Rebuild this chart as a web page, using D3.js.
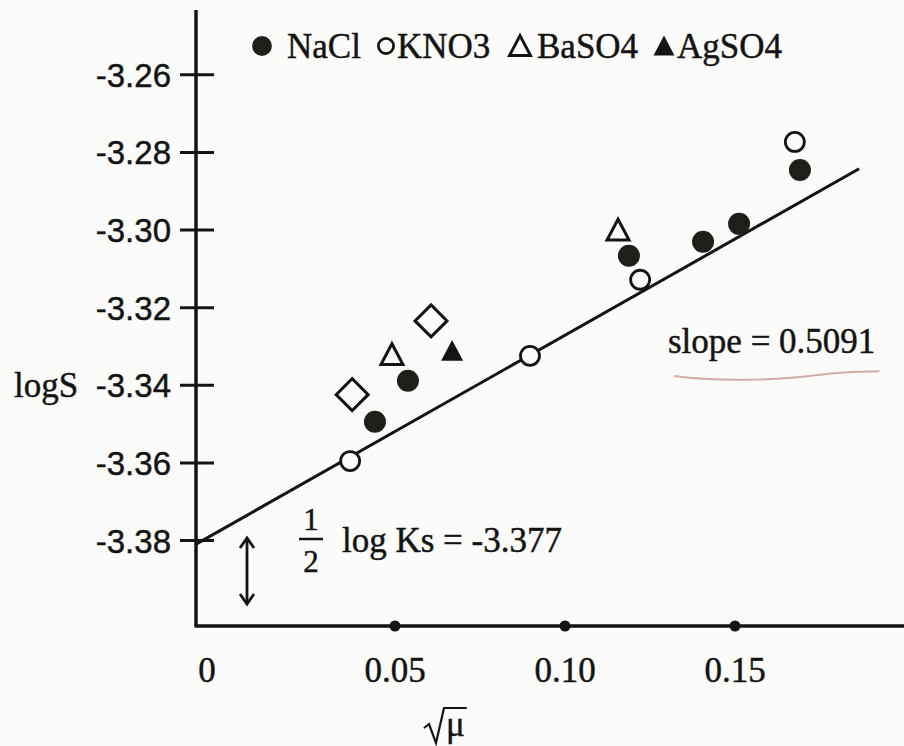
<!DOCTYPE html>
<html><head><meta charset="utf-8">
<script src="https://cdn.jsdelivr.net/npm/d3@7/dist/d3.min.js"></script>
<style>
html,body{margin:0;padding:0;background:#fbfbf9;}
svg{display:block;}
text{stroke:#141414;stroke-width:0.45px;}
</style></head>
<body>
<script>
// ---- data ----
const naclPts  = [[0.0441,-3.3494],[0.0538,-3.3388],[0.1188,-3.3066],[0.1406,-3.3030],[0.1512,-3.2984],[0.1691,-3.2845]];
const kno3Pts  = [[0.0368,-3.3595],[0.0897,-3.3324],[0.1221,-3.3128],[0.1676,-3.2773]];
const baso4Pts = [[0.0491,-3.3321],[0.1156,-3.3000]];
const agso4Pts = [[0.0668,-3.3311]];
const diamondPts = [[0.0374,-3.3424],[0.0606,-3.3234]];
const fitLine  = [[-0.0085,-3.3809],[0.1865,-3.2842]];
const yTicks = [-3.26,-3.28,-3.30,-3.32,-3.34,-3.36,-3.38];
const yTickLabels = ["-3.26","-3.28","-3.30","-3.32","-3.34","-3.36","-3.38"];
const xTicks = [0.05,0.10,0.15];
const xTickLabels = ["0.05","0.10","0.15"];
const legendNames = ["NaCl","KNO3","BaSO4","AgSO4"];
const legendKinds = ["dot","ring","tri","triFill"];
const slopeText = "slope = 0.5091";
const interceptText = "log Ks = -3.377";

const W = 904, H = 746;
const ink = "#141414";
const serif = "'Liberation Serif','DejaVu Serif',serif";
const sans = "'Liberation Sans',Arial,sans-serif";

const x = d3.scaleLinear().domain([-0.00853, 0.2]).range([196, 196 + 0.20853*3400]);
const y = d3.scaleLinear().domain([-3.402, -3.2433]).range([626, 10]);

const svg = d3.select("body").append("svg").attr("width", W).attr("height", H);

// axes
svg.append("line").attr("x1", x.range()[0]).attr("x2", x.range()[0])
  .attr("y1", y.range()[1]).attr("y2", y.range()[0])
  .attr("stroke", ink).attr("stroke-width", 3.5);
svg.append("line").attr("x1", x.range()[0]-1.5).attr("x2", W)
  .attr("y1", y.range()[0]).attr("y2", y.range()[0])
  .attr("stroke", ink).attr("stroke-width", 3.5);

// y ticks
const yg = svg.append("g");
yTicks.forEach((t, i) => {
  const yy = y(t);
  yg.append("line").attr("x1", x.range()[0]-16).attr("x2", x.range()[0]+18)
    .attr("y1", yy).attr("y2", yy).attr("stroke", ink).attr("stroke-width", 3);
  yg.append("text").attr("x", x.range()[0]-25).attr("y", yy+12)
    .attr("text-anchor", "end").attr("font-family", sans).attr("font-size", 33)
    .attr("fill", ink).text(yTickLabels[i]);
});
svg.append("text").attr("x", 14).attr("y", y(-3.34)+12)
  .attr("font-family", serif).attr("font-size", 35).attr("fill", ink).text("logS");

// x ticks (dots on axis)
xTicks.forEach((t, i) => {
  svg.append("circle").attr("cx", x(t)).attr("cy", y.range()[0]).attr("r", 5.5).attr("fill", ink);
  svg.append("text").attr("x", x(t)).attr("y", 682).attr("text-anchor", "middle")
    .attr("font-family", serif).attr("font-size", 35).attr("fill", ink).text(xTickLabels[i]);
});
svg.append("text").attr("x", x.range()[0]+11).attr("y", 682).attr("text-anchor", "middle")
  .attr("font-family", serif).attr("font-size", 35).attr("fill", ink).text("0");

// x axis title  √μ  (radical drawn as a stroke around the μ)
const mu = svg.append("text").attr("x", 446).attr("y", 736)
  .attr("font-family", serif).attr("font-size", 35).attr("fill", ink).text("μ");
const mub = mu.node().getBBox();
const radTop = mub.y + 3, radLeft = mub.x - 2;
svg.append("path")
  .attr("d", `M${radLeft-20},${radTop+20}L${radLeft-15},${radTop+16}L${radLeft-8},${radTop+35}L${radLeft},${radTop}L${mub.x + mub.width + 2},${radTop}`)
  .attr("fill", "none").attr("stroke", ink).attr("stroke-width", 2.2).attr("stroke-linejoin", "miter");

// fit line
svg.append("path").datum(fitLine)
  .attr("d", d3.line().x(d => x(d[0])).y(d => y(d[1])))
  .attr("fill", "none").attr("stroke", ink).attr("stroke-width", 3);

// marker helpers
function triPath(cx, cy, s) {
  const h = s * 0.9;
  return `M${cx},${cy - h/2 - 1}L${cx + s/2},${cy + h/2}L${cx - s/2},${cy + h/2}Z`;
}
function diaPath(cx, cy, r) {
  return `M${cx},${cy - r}L${cx + r},${cy}L${cx},${cy + r}L${cx - r},${cy}Z`;
}
function drawMark(g, kind, cx, cy, scale) {
  if (kind === "dot") g.append("circle").attr("cx", cx).attr("cy", cy).attr("r", 11*scale).attr("fill", "#1e1e1a");
  else if (kind === "ring") g.append("circle").attr("cx", cx).attr("cy", cy).attr("r", 9.5*scale)
      .attr("fill", "#fbfbf9").attr("stroke", ink).attr("stroke-width", 2.8);
  else if (kind === "tri") g.append("path").attr("d", triPath(cx, cy, 22*scale))
      .attr("fill", "none").attr("stroke", ink).attr("stroke-width", 3).attr("stroke-linejoin", "miter");
  else if (kind === "triFill") g.append("path").attr("d", triPath(cx, cy, 22*scale)).attr("fill", ink);
  else if (kind === "dia") g.append("path").attr("d", diaPath(cx, cy, 16*scale))
      .attr("fill", "none").attr("stroke", ink).attr("stroke-width", 3);
}

const mg = svg.append("g");
[[diamondPts,"dia"],[kno3Pts,"ring"],[naclPts,"dot"],[baso4Pts,"tri"],[agso4Pts,"triFill"]].forEach(([pts, kind]) => {
  pts.forEach(p => drawMark(mg, kind, x(p[0]), y(p[1]), 1));
});

// legend
const legendMarkX = [262, 386, 520, 664];
const legendTextX = [287, 397, 537, 677];
const lg = svg.append("g");
legendNames.forEach((n, i) => {
  const scl = (legendKinds[i] === "dot") ? 0.9 : (legendKinds[i] === "ring" ? 0.8 : 0.95);
  drawMark(lg, legendKinds[i], legendMarkX[i], 46, scl);
  lg.append("text").attr("x", legendTextX[i]).attr("y", 58)
    .attr("font-family", serif).attr("font-size", 35).attr("fill", ink).text(n);
});

// slope annotation
const st = svg.append("text").attr("x", 668).attr("y", 353)
  .attr("font-family", serif).attr("font-size", 35).attr("fill", ink).text(slopeText);
const bb = st.node().getBBox();
svg.append("path")
  .attr("d", `M${bb.x+6},${bb.y+bb.height+15} C${bb.x+60},${bb.y+bb.height+22} ${bb.x+120},${bb.y+bb.height+18} ${bb.x+150},${bb.y+bb.height+14} S${bb.x+bb.width},${bb.y+bb.height+11} ${bb.x+bb.width+4},${bb.y+bb.height+10}`)
  .attr("fill", "none").attr("stroke", "#c08a88").attr("stroke-width", 2).attr("opacity", 0.7);

// intercept annotation: 1/2 log Ks = -3.377
const fx = 311;
svg.append("text").attr("x", fx).attr("y", 530).attr("text-anchor", "middle")
  .attr("font-family", serif).attr("font-size", 31).attr("fill", ink).text("1");
svg.append("line").attr("x1", fx-12).attr("x2", fx+12).attr("y1", 539).attr("y2", 539)
  .attr("stroke", ink).attr("stroke-width", 2.5);
svg.append("text").attr("x", fx).attr("y", 572).attr("text-anchor", "middle")
  .attr("font-family", serif).attr("font-size", 31).attr("fill", ink).text("2");
svg.append("text").attr("x", 342).attr("y", 552)
  .attr("font-family", serif).attr("font-size", 35).attr("fill", ink).text(interceptText);

// double arrow
const ax = 247, ay1 = 538, ay2 = 604;
svg.append("line").attr("x1", ax).attr("x2", ax).attr("y1", ay1+2).attr("y2", ay2-2)
  .attr("stroke", ink).attr("stroke-width", 2.8);
svg.append("path").attr("d", `M${ax-7},${ay1+10}L${ax},${ay1}L${ax+7},${ay1+10}`)
  .attr("fill", "none").attr("stroke", ink).attr("stroke-width", 2.8);
svg.append("path").attr("d", `M${ax-7},${ay2-10}L${ax},${ay2}L${ax+7},${ay2-10}`)
  .attr("fill", "none").attr("stroke", ink).attr("stroke-width", 2.8);
</script>
</body></html>
